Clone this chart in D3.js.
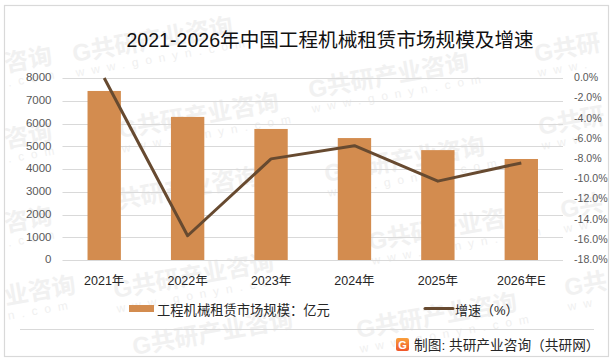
<!DOCTYPE html>
<html><head><meta charset="utf-8">
<script src="https://cdn.jsdelivr.net/npm/d3@7"></script>
<style>html,body{margin:0;padding:0;background:#fff}svg{display:block}text{font-family:"Liberation Sans","Noto Sans CJK SC",sans-serif}</style>
</head><body><svg id="c" width="616" height="361"></svg>
<script>
const categories=["2021年","2022年","2023年","2024年","2025年","2026年E"];
const marketSize=[7430,6290,5760,5360,4830,4440];
const growth=[0,-15.6,-8,-6.7,-10.2,-8.4];
const leftTicks=[0,1000,2000,3000,4000,5000,6000,7000,8000];
const rightTicks=[0,-2,-4,-6,-8,-10,-12,-14,-16,-18];
const titleText="2021-2026年中国工程机械租赁市场规模及增速";
const legendBar="工程机械租赁市场规模：亿元";
const legendLine="增速（%）";
const sourceText="制图: 共研产业咨询（共研网）";
const wmFull="G共研产业咨询", wmUrl="www.gonyn.com";
// left end of each watermark, with the part of it that lies inside the picture
const watermarks=[
 [74,62,wmFull,wmUrl],[310,98,wmFull,wmUrl],[536,62,"G共研","www."],[6,72,"咨询",".com"],
 [120,138,wmFull,wmUrl],[6,148,"咨询",".com"],[540,135,"G共研","www."],[326,182,wmFull,wmUrl],
 [100,212,wmFull,null],[6,232,"咨询",".com"],[370,250,wmFull,wmUrl],[562,218,"G共","ww"],
 [115,298,wmFull,wmUrl],[6,305,"业咨询","n.com"],[358,338,wmFull,wmUrl],[566,296,"G共","ww"],[134,355,wmFull,null]
];

const svg=d3.select("#c");
const W=616,H=361,L=62.5,R=563,T=78,B=260;
svg.append("rect").attr("width",W).attr("height",H).attr("fill","#fff");

// watermarks
const wm=svg.append("g").attr("id","watermarks");
watermarks.forEach(([px,py,t,u])=>{
  const g=wm.append("g").attr("transform",`translate(${px},${py}) rotate(-10)`);
  g.append("text").attr("font-size",24).attr("font-weight",700).attr("fill","#f1f1f1").attr("font-family","'Noto Sans CJK SC'").text(t);
  if(u) g.append("text").attr("y",15).attr("font-size",12).attr("letter-spacing",7).attr("fill","#f0f0f0").text(u);
});

// frame
svg.append("rect").attr("x",4.5).attr("y",5.5).attr("width",604).attr("height",351).attr("fill","none").attr("stroke","#d9d9d9").attr("stroke-width",1.2);
svg.append("line").attr("x1",20).attr("x2",594).attr("y1",329.5).attr("y2",329.5).attr("stroke","#d9d9d9");

const x=d3.scaleBand().domain(categories).range([L,R]).paddingInner(0.6).paddingOuter(0.3);
const yL=d3.scaleLinear().domain([0,8000]).range([B,T]);
const yR=d3.scaleLinear().domain([-18,0]).range([B,T]);

// grid
svg.append("g").selectAll("line").data(leftTicks).join("line")
  .attr("x1",L).attr("x2",R).attr("y1",d=>Math.round(yL(d))+.5).attr("y2",d=>Math.round(yL(d))+.5)
  .attr("stroke","#d9d9d9").attr("stroke-width",1);

// bars
svg.append("g").selectAll("rect").data(marketSize).join("rect")
  .attr("x",(d,i)=>x(categories[i])).attr("width",x.bandwidth())
  .attr("y",d=>yL(d)).attr("height",d=>B-yL(d)).attr("fill","#d38c4f");

// line
const cx=c=>x(c)+x.bandwidth()/2;
svg.append("path").datum(growth)
  .attr("d",d3.line().x((d,i)=>cx(categories[i])).y(d=>yR(d)))
  .attr("fill","none").attr("stroke","#674a30").attr("stroke-width",3).attr("stroke-linejoin","round");

// axes
const tickFill="#595959";
const la=svg.append("g").attr("transform",`translate(${L},0)`).call(d3.axisLeft(yL).tickValues(leftTicks).tickSize(0).tickPadding(11).tickFormat(d3.format("d")));
la.select(".domain").remove();
la.selectAll("text").attr("font-size",11.5).attr("fill",tickFill).attr("dy","0.25em");
const ra=svg.append("g").attr("transform",`translate(${R},0)`).call(d3.axisRight(yR).tickValues(rightTicks).tickSize(0).tickPadding(11).tickFormat(d=>d.toFixed(1)+"%"));
ra.select(".domain").remove();
ra.selectAll("text").attr("font-size",10.6).attr("fill",tickFill).attr("dy","0.25em");
const ba=svg.append("g").attr("transform",`translate(0,${B})`).call(d3.axisBottom(x).tickSize(0).tickPadding(16));
ba.select(".domain").remove();
ba.selectAll("text").attr("font-size",12.5).attr("fill","#262626");

// title
svg.append("text").attr("x",330).attr("y",47).attr("text-anchor","middle").attr("font-size",19.6).attr("fill","#111").text(titleText);

// legend
svg.append("rect").attr("x",129).attr("y",305).attr("width",25).attr("height",7).attr("fill","#d38c4f");
svg.append("text").attr("x",157).attr("y",315).attr("font-size",13.3).attr("fill","#262626").text(legendBar);
svg.append("line").attr("x1",425).attr("x2",453).attr("y1",308.5).attr("y2",308.5).attr("stroke","#674a30").attr("stroke-width",3).attr("stroke-linecap","round");
svg.append("text").attr("x",455).attr("y",315).attr("font-size",13).attr("fill","#262626").text(legendLine);

// source
const grad=svg.append("defs").append("linearGradient").attr("id","lg").attr("x1",0).attr("x2",0).attr("y1",0).attr("y2",1);
grad.append("stop").attr("offset",0).attr("stop-color","#f9a03c");
grad.append("stop").attr("offset",1).attr("stop-color","#f0562a");
const lg=svg.append("g").attr("transform","translate(396,338)");
lg.append("rect").attr("width",13).attr("height",13).attr("rx",2).attr("fill","url(#lg)");
lg.append("text").attr("x",6.5).attr("y",10.5).attr("text-anchor","middle").attr("font-size",11).attr("font-weight",700).attr("fill","#fff").text("G");
svg.append("text").attr("x",414).attr("y",349.5).attr("font-size",13.7).attr("fill","#262626").text(sourceText);
</script></body></html>
